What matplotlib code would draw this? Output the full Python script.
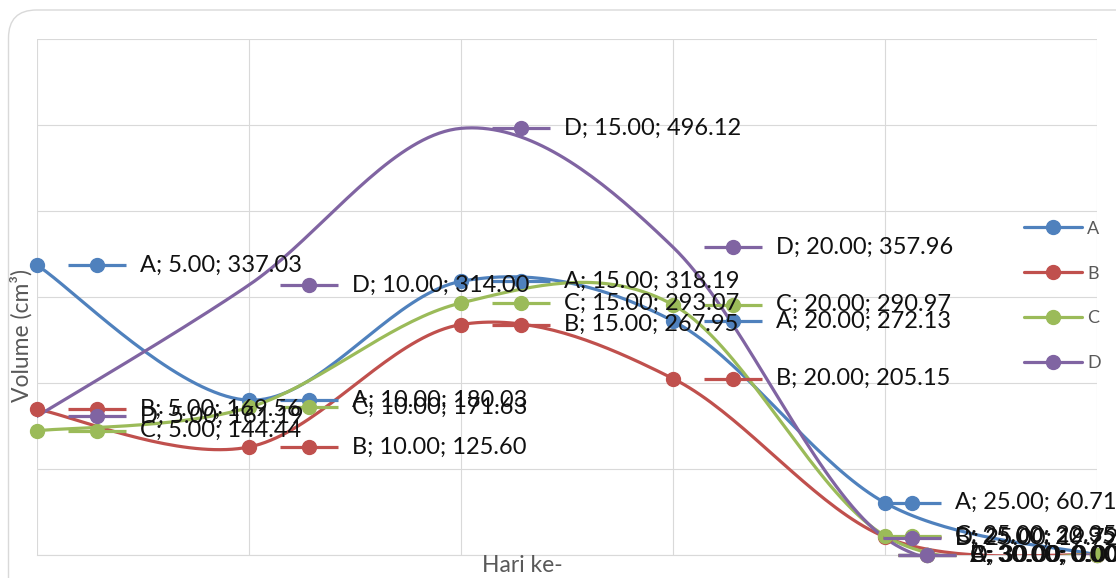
import numpy as np
import matplotlib.pyplot as plt
from matplotlib.patches import FancyBboxPatch
from matplotlib.transforms import Affine2D

plt.rcParams['font.family'] = ['Lato', 'DejaVu Sans']

# Data volume per hari
hari = [5, 10, 15, 20, 25, 30]
vol_a = [337.03, 180.03, 318.19, 272.13, 60.71, 0.00]
vol_b = [169.56, 125.60, 267.95, 205.15, 20.95, 0.00]
vol_c = [144.44, 171.63, 293.07, 290.97, 22.35, 0.00]
vol_d = [161.19, 314.00, 496.12, 357.96, 19.72, 0.00]
nama = ['A', 'B', 'C', 'D']
warna = ['#4F81BD', '#C0504D', '#9BBB59', '#8064A2']
pakai_marker = [True, True, True, False]

# geser label (pixel) untuk tiap titik hari
geser_label = {5: 60, 10: 60, 15: 60, 20: 60, 25: 27, 30: -170}


def smooth(x, y, n=40):
    # kurva bezier ala garis halus excel
    x = np.asarray(x, float)
    y = np.asarray(y, float)
    p = np.column_stack([x, y])
    p = np.vstack([p[0], p, p[-1]])
    out = []
    t = np.linspace(0, 1, n)[:, None]
    for i in range(1, len(p) - 2):
        p0, p1, p2, p3 = p[i - 1], p[i], p[i + 1], p[i + 2]
        c1 = p1 + (p2 - p0) / 6
        c2 = p2 - (p3 - p1) / 6
        seg = ((1 - t) ** 3) * p1 + 3 * ((1 - t) ** 2) * t * c1 + 3 * (1 - t) * t ** 2 * c2 + t ** 3 * p2
        out.append(seg)
    out = np.vstack(out)
    return out[:, 0], out[:, 1]


fig = plt.figure(figsize=(11.16, 5.78), dpi=100)
ax = fig.add_axes([37 / 1116, 1 - 555 / 578, 1060 / 1116, 516 / 578])

# bingkai chart dengan sudut bulat
bingkai = FancyBboxPatch((8.5, -200), 1300, 578 - 10 + 200, boxstyle='round,pad=0,rounding_size=28',
                         transform=None, fill=False, edgecolor='#D9D9D9', linewidth=1)
fig.patches.append(bingkai)

semua = [vol_a, vol_b, vol_c, vol_d]
for vol, nm, c, mk in zip(semua, nama, warna, pakai_marker):
    xs, ys = smooth(hari, vol)
    ax.plot(xs, ys, color=c, lw=2.3, solid_capstyle='round', zorder=3, label=nm)
    if mk:
        ax.plot(hari, vol, 'o', color=c, ms=10, zorder=4, clip_on=False)

# label data dengan kunci legenda kecil
for vol, nm, c in zip(semua, nama, warna):
    for h, v in zip(hari, vol):
        dx = geser_label[h]
        tr = ax.transData + Affine2D().translate(dx, 0)
        ax.plot(h, v, marker='_', ms=42, mew=2.3, color=c, transform=tr, clip_on=False, zorder=5)
        ax.plot(h, v, marker='o', ms=10, color=c, transform=tr, clip_on=False, zorder=5)
        ax.annotate(f'{nm}; {h:.2f}; {v:.2f}', (h, v), xytext=(dx + 43, 0), textcoords='offset pixels',
                    ha='left', va='center', fontsize=17, color='#111111', zorder=6,
                    annotation_clip=False)

ax.set_xlim(5, 30)
ax.set_ylim(0, 600)
ax.set_xticks(hari)
ax.set_yticks(np.arange(0, 601, 100))
ax.grid(True, color='#D9D9D9', lw=0.8)
ax.tick_params(length=0, labelbottom=False, labelleft=False)
for s in ['top', 'right', 'left']:
    ax.spines[s].set_visible(False)
ax.spines['bottom'].set_color('#D9D9D9')
ax.set_axisbelow(True)

fig.text(21 / 1116, 1 - 335 / 578, 'Volume (cm³)', rotation=90, ha='center', va='center',
         fontsize=16.5, color='#595959')
fig.text(522 / 1116, 1 - 565 / 578, 'Hari ke-', ha='center', va='center', fontsize=16.5, color='#595959')

leg = ax.legend(loc='center left', bbox_to_anchor=(1024 / 1116, 1 - 296 / 578), bbox_transform=fig.transFigure,
                frameon=False, fontsize=13, handlelength=3.2, handletextpad=0.3, labelspacing=1.6,
                borderaxespad=0, borderpad=0)
for t in leg.get_texts():
    t.set_color('#595959')
for hl, c in zip(leg.legend_handles, warna):
    hl.set_marker('o')
    hl.set_markersize(10)
    hl.set_linewidth(2.3)

fig.savefig('out.png', dpi=100)
